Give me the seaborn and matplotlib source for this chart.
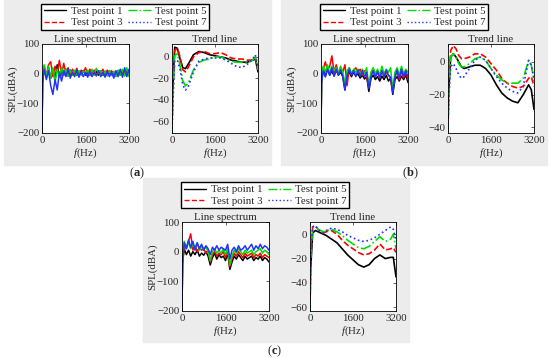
import numpy as np
import pandas as pd
import matplotlib
matplotlib.use("Agg")
import matplotlib.pyplot as plt
import seaborn as sns
from matplotlib.patches import Rectangle
from matplotlib.lines import Line2D

sns.set_style("white")
plt.rcParams['font.family'] = ['Liberation Serif', 'DejaVu Serif']
plt.rcParams['mathtext.fontset'] = 'custom'
plt.rcParams['mathtext.rm'] = 'Liberation Serif'
plt.rcParams['mathtext.it'] = 'Liberation Serif:italic'
plt.rcParams['mathtext.bf'] = 'Liberation Serif:bold'

W, H = 550, 358
FS = 7.8

points = ["Test point 1", "Test point 3", "Test point 5", "Test point 7"]
colors = ["black", "#ff0000", "#00dd00", "#2233ff"]
styles = ["-", "--", "-.", ":"]

# line spectrum frequencies (Hz)
spec_freq = [0, 20, 80, 160, 240, 320, 400, 480, 560, 640, 720, 800, 880, 960, 1040,
             1120, 1200, 1280, 1360, 1440, 1520, 1600, 1680, 1760, 1840, 1920, 2000,
             2080, 2160, 2240, 2320, 2400, 2480, 2560, 2640, 2720, 2800, 2880, 2960,
             3040, 3120, 3200]

# panel (a) line spectrum
spec_a_tp1 = [-200, -30, 25, -10, 20, -15, 15, -20, 30, -10, 20, -5, 15, -8, 12, -5, 10, -6, 8, -4,
              10, -5, 8, -6, 10, -4, 8, -5, 10, -6, 8, -5, 10, -4, 6, -8, 10, -5, 12, -6, 10, -8]
spec_a_tp3 = [-200, -30, 20, -5, 30, 40, -10, 25, 5, 45, -5, 35, 0, 20, -5, 15, 0, 18, -5, 12,
              5, 20, -3, 15, 0, 12, -5, 10, 2, 15, -5, 12, 0, 10, -4, 8, 0, 12, -5, 10, 2, -5]
spec_a_tp5 = [-200, -30, 30, -10, 25, -15, 20, -30, 15, -10, 20, -5, 15, -8, 10, -5, 12, -5, 10, -3,
              8, 0, 12, -5, 15, -3, 18, 0, 10, -5, 8, -8, 10, -5, 8, -10, 12, -5, 15, -8, 20, -10]
spec_a_tp7 = [-200, -30, 15, -20, 10, -40, -70, -20, -55, 5, -25, 10, -10, 15, -15, 5, -10, 12, -12, 8,
              -10, 5, -12, 8, -10, 5, -8, 10, -10, 5, -12, 8, -10, 5, -15, 10, -10, 15, -12, 20, -10, 15]

# panel (b) line spectrum
spec_b_tp1 = [-200, -30, 20, -10, 15, -5, 10, -8, 12, -5, 5, -10, -55, -5, 5, -10, 5, -8, 0, -15,
              -5, -18, -10, -60, -15, -5, -20, -10, -25, -8, -20, -5, -25, -15, -70, -20, -10, -25,
              -8, -20, -5, -30]
spec_b_tp3 = [-200, -30, 15, 40, 10, 25, 60, 5, 30, 0, 20, 5, 30, -40, 20, 0, 10, 20, 5, 15,
              -5, 10, -10, -45, 0, 10, -10, 5, -15, 10, -10, 5, -5, -15, -50, -10, 5, -20, 10, -15, 5, -20]
spec_b_tp5 = [-200, -30, 25, 5, 30, 0, 25, 10, 20, 0, 25, 5, -30, 10, 20, 0, 15, 5, 15, -5,
              15, 0, 20, -40, 5, 20, 0, 15, -5, 25, 0, 15, 5, 20, -55, 5, 20, -5, 25, 0, 15, 5]
spec_b_tp7 = [-180, -30, 10, -10, 15, -5, 20, -8, 15, -5, 12, -8, -55, -5, 15, -5, 10, -10, 12, -8,
              10, -12, 5, -50, -10, 10, -12, 8, -15, 10, -10, 12, -5, -12, -65, -10, 12, -15, 15, -10, 10, -12]

# panel (c) line spectrum
spec_c_tp1 = [-200, -40, 10, -10, 5, -15, 0, -10, 5, -15, -5, -12, 0, -15, -45, -20, -5, -25, -10, -20,
              -15, -30, -5, -60, -35, -15, -25, -10, -20, -30, -15, -25, -20, -15, -30, -20, -25, -15,
              -30, -20, -25, -35]
spec_c_tp3 = [-200, -40, 25, 10, 35, 60, 5, 20, 0, 15, 5, 10, -5, 5, -35, -10, 0, -15, -5, -10,
              0, -20, 0, -50, -25, -5, -15, 0, -10, -20, -5, -15, -10, -5, -20, -10, -15, -5, -20, -10, -15, -20]
spec_c_tp5 = [-200, -40, 35, 15, 30, 10, 25, 15, 30, 5, 20, 10, 15, 0, -30, 0, 10, -5, 5, -5,
              10, -10, 10, -45, -15, 5, -5, 10, 0, -10, 5, -5, 0, 5, -10, 0, 5, 10, -5, 5, 0, -10]
spec_c_tp7 = [-200, -40, 30, 10, 40, 15, 35, 5, 30, 10, 25, 5, 20, 10, -10, 15, 5, 20, 5, 15,
              10, 5, 25, -25, 5, 15, 0, 20, 5, 10, 20, 5, 15, 25, 5, 20, 10, 25, 10, 20, 15, 5]

# trend line frequencies (Hz)
trend_freq = [0, 20, 100, 200, 300, 400, 500, 600, 800, 1000, 1200, 1400, 1600, 1800, 2000,
              2200, 2400, 2600, 2800, 3000, 3100, 3200]

trend_a_tp1 = [-71, -35, 9, 8, -2, -10, -11, -7, 2, 5, 4, 2, 1, 0, -1, -3, -4, -5, -5, -3, -2, -14]
trend_a_tp3 = [-71, -40, 6, 8, 0, -12, -14, -10, 0, 4, 5, 3, 3, 4, 2, -1, -2, -2, -3, -3, -1, -12]
trend_a_tp5 = [-71, -45, 1, 3, -8, -22, -27, -25, -12, -5, -3, -2, 0, 0, -2, -4, -5, -5, -6, -3, 0, -12]
trend_a_tp7 = [-71, -50, -4, -3, -12, -26, -31, -28, -14, -4, -2, -1, -1, -1, -3, -6, -9, -10, -7, -2, 2, -10]

trend_b_tp1 = [-43, -20, 3, 5, 3, 0, -3, -4, -3, -2, -2, -4, -8, -14, -19, -22, -24, -25, -20, -14, -17, -29]
trend_b_tp3 = [-43, -15, 7, 10, 8, 4, 2, 2, 3, 5, 5, 3, -1, -5, -10, -13, -15, -16, -15, -10, -9, -15]
trend_b_tp5 = [-43, -18, 3, 5, 3, -1, -3, -3, -1, 2, 3, 1, -4, -8, -11, -13, -13, -13, -10, 1, -2, -12]
trend_b_tp7 = [-43, -25, -3, -1, -4, -8, -10, -9, -4, 1, 3, 1, -4, -9, -13, -16, -18, -19, -15, 1, -2, -10]

trend_c_tp1 = [-63, -30, 1, 3, 2, 1, 0, -1, -4, -7, -12, -17, -21, -25, -27, -25, -20, -17, -20, -19, -19, -35]
trend_c_tp3 = [-63, -20, 6, 7, 4, 2, 1, 2, 3, 0, -5, -9, -12, -15, -17, -16, -13, -8, -13, -12, -11, -15]
trend_c_tp5 = [-63, -20, 6, 7, 4, 3, 2, 3, 4, 2, -1, -5, -8, -11, -12, -10, -6, -2, -6, -4, 0, -12]
trend_c_tp7 = [-63, -20, 6, 7, 4, 2, 1, 3, 5, 4, 2, -1, -3, -5, -6, -5, -3, 0, 3, 6, 4, -5]

panels = [
    dict(tag="a", box=(4, 271, 0, 165), spec_l=42, trend_l=172, top=44,
         spec=[spec_a_tp1, spec_a_tp3, spec_a_tp5, spec_a_tp7],
         trend=[trend_a_tp1, trend_a_tp3, trend_a_tp5, trend_a_tp7],
         tylim=(-71, 12), tyticks=[-60, -40, -20, 0], label_xy=(137, 173)),
    dict(tag="b", box=(281, 547, 0, 165), spec_l=321, trend_l=448, top=44,
         spec=[spec_b_tp1, spec_b_tp3, spec_b_tp5, spec_b_tp7],
         trend=[trend_b_tp1, trend_b_tp3, trend_b_tp5, trend_b_tp7],
         tylim=(-43.5, 11), tyticks=[-40, -20, 0], label_xy=(410, 173)),
    dict(tag="c", box=(143, 409, 178, 342), spec_l=182, trend_l=310, top=222,
         spec=[spec_c_tp1, spec_c_tp3, spec_c_tp5, spec_c_tp7],
         trend=[trend_c_tp1, trend_c_tp3, trend_c_tp5, trend_c_tp7],
         tylim=(-63, 10), tyticks=[-60, -40, -20, 0], label_xy=(275, 351)),
]


def rect(l, r, t, b):
    return [l / W, 1 - b / H, (r - l) / W, (b - t) / H]


def style_axes(ax):
    ax.set_xlim(0, 3200)
    ax.set_xticks([0, 1600, 3200])
    ax.tick_params(direction="in", length=2, width=0.5, labelsize=FS, pad=2,
                   top=True, right=True)
    for s in ax.spines.values():
        s.set_linewidth(0.6)
        s.set_color("black")
    ax.set_xlabel(r"$\mathit{f}$(Hz)", fontsize=FS, labelpad=1)
    ax.set_ylabel("")


fig = plt.figure(figsize=(W / 100, H / 100), dpi=100)

for p in panels:
    x0, x1, y0, y1 = p["box"]
    fig.add_artist(Rectangle((x0 / W, 1 - y1 / H), (x1 - x0) / W, (y1 - y0) / H,
                             transform=fig.transFigure, color="#ececec", zorder=-5))
    top = p["top"]
    ax1 = fig.add_axes(rect(p["spec_l"], p["spec_l"] + 87, top, top + 89))
    ax2 = fig.add_axes(rect(p["trend_l"], p["trend_l"] + 86, top, top + 89))

    for i in range(4):
        # dense spectra read as solid bands in the original
        sns.lineplot(x=spec_freq, y=p["spec"][i], ax=ax1, color=colors[i],
                     linestyle="-", lw=1.1, legend=False)
        sns.lineplot(x=trend_freq, y=p["trend"][i], ax=ax2, color=colors[i],
                     linestyle=styles[i], lw=1.2, legend=False)

    style_axes(ax1)
    ax1.set_ylim(-200, 100)
    ax1.set_yticks([-200, -100, 0, 100])
    ax1.set_title("Line spectrum", fontsize=FS, pad=1.5)
    ax1.set_ylabel("SPL(dBA)", fontsize=FS, labelpad=0)

    style_axes(ax2)
    ax2.set_ylim(*p["tylim"])
    ax2.set_yticks(p["tyticks"])
    ax2.set_title("Trend line", fontsize=FS, pad=1.5)

    handles = [Line2D([], [], color=colors[i], linestyle=styles[i], lw=1.0) for i in range(4)]
    lx = p["spec_l"] - 1
    fig.legend(handles, points, ncol=2, loc="upper left",
               bbox_to_anchor=(lx / W, 1 - (top - 40) / H), fontsize=7.8,
               frameon=True, fancybox=False, edgecolor="black", framealpha=1,
               handlelength=2.1, handletextpad=0.4, columnspacing=0.5,
               labelspacing=0.15, borderpad=0.25, borderaxespad=0)

    lx, ly = p["label_xy"]
    fig.text(lx / W, 1 - ly / H, r"($\mathbf{" + p["tag"] + "}$)", fontsize=9,
             ha="center", va="center")

fig.savefig("out.png", dpi=100, facecolor="white")
